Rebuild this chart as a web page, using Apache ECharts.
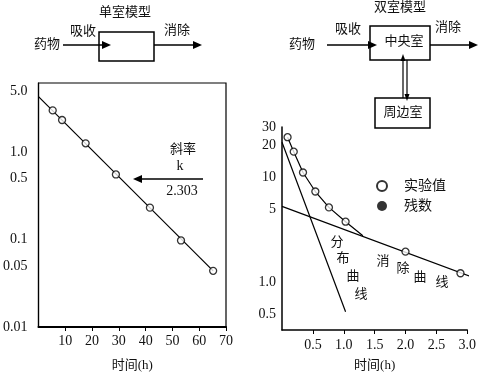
<!DOCTYPE html>
<html>
<head>
<meta charset="utf-8">
<script src="https://cdn.jsdelivr.net/npm/echarts@6/dist/echarts.min.js"></script>
<style>
  html, body { margin: 0; padding: 0; background: #fff; }
  #main { width: 479px; height: 377px; }
</style>
</head>
<body>
<div id="main"></div>
<script>
// 单室模型 数据
var oneTime = [5.3, 8.8, 17.6, 28.9, 41.6, 53.2, 65.2];
var oneConc = [3.03, 2.35, 1.27, 0.559, 0.233, 0.098, 0.044];
var oneLineTime = [0, 65.2];
var oneLineConc = [4.36, 0.044];
var oneXTicks = [10, 20, 30, 40, 50, 60, 70];
var oneYTicks = [0.01, 0.05, 0.1, 0.5, 1, 5];

// 双室模型 数据
var twoTime = [0.09, 0.19, 0.34, 0.54, 0.76, 1.03, 2.0, 2.89];
var twoConc = [24.0, 17.5, 11.1, 7.33, 5.18, 3.79, 1.97, 1.23];
var curveTime = [0.09, 0.19, 0.34, 0.54, 0.76, 1.03, 1.31];
var curveConc = [24.0, 17.5, 11.1, 7.33, 5.18, 3.79, 2.79];
var elimTime = [0, 3.03];
var elimConc = [5.3, 1.16];
var distTime = [0, 1.03];
var distConc = [21.5, 0.53];
var twoXTicks = [0.5, 1, 1.5, 2, 2.5, 3];
var twoYTicks = [0.5, 1, 5, 10, 20, 30];

var font = '"Liberation Serif", "Noto Sans CJK SC", serif';
var black = '#000';

function zip(xs, ys) {
  return xs.map(function (x, i) { return [x, ys[i]]; });
}
function fmtOne(v) {
  var n = Number(Number(v).toPrecision(2));
  return n >= 1 ? n.toFixed(1) : String(n);
}
function fmtTwo(v) {
  var n = Number(Number(v).toPrecision(2));
  if (n >= 5) return String(n);
  return n >= 1 ? n.toFixed(1) : String(n);
}

// 文字和箭头（示意图部分）
function txt(x, y, s, size) {
  return {
    type: 'text', x: x, y: y, silent: true,
    style: { text: s, fill: '#111', font: (size || 13) + 'px ' + font, textAlign: 'center', textVerticalAlign: 'middle' }
  };
}
function box(x, y, w, h) {
  return { type: 'rect', shape: { x: x, y: y, width: w, height: h }, style: { fill: 'none', stroke: black, lineWidth: 1.5 } };
}
function seg(x1, y1, x2, y2, w) {
  return { type: 'line', shape: { x1: x1, y1: y1, x2: x2, y2: y2 }, style: { stroke: black, lineWidth: w || 1.5 } };
}
function head(x, y, dir, len, half) {
  len = len || 9; half = half || 4;
  var pts;
  if (dir === 'right') pts = [[x, y], [x - len, y - half], [x - len, y + half]];
  else if (dir === 'left') pts = [[x, y], [x + len, y - half], [x + len, y + half]];
  else if (dir === 'up') pts = [[x, y], [x - half, y + len], [x + half, y + len]];
  else pts = [[x, y], [x - half, y - len], [x + half, y - len]];
  return { type: 'polygon', shape: { points: pts }, style: { fill: black } };
}

var graphics = [
  // 单室模型
  txt(125, 13, '单室模型'),
  txt(47, 45, '药物'),
  txt(83, 32, '吸收'),
  box(99, 32, 55, 29),
  seg(63, 45, 104, 45), head(111, 45, 'right'),
  txt(177, 31, '消除'),
  seg(154, 45, 195, 45), head(202, 45, 'right'),
  // 双室模型
  txt(400, 8, '双室模型'),
  txt(302, 45, '药物'),
  txt(348, 30, '吸收'),
  box(370, 26, 60, 34),
  txt(404, 42, '中央室'),
  seg(327, 45, 370, 45), head(377, 45, 'right'),
  txt(448, 28, '消除'),
  seg(430, 45, 471, 45), head(478, 45, 'right'),
  seg(403, 60, 403, 98, 1.2), head(403, 54, 'up', 7, 2.5),
  seg(407, 60, 407, 95, 1.2), head(407, 101, 'down', 7, 2.5),
  box(375, 98, 55, 30),
  txt(403, 113, '周边室'),
  // 斜率标注
  txt(183, 150, '斜率'),
  txt(180, 166, 'k', 14),
  seg(141, 179, 203, 179, 1.5), head(133, 179, 'left', 9, 4),
  txt(182, 191, '2.303', 14),
  // 曲线名称
  txt(337, 243, '分'), txt(343, 259, '布'), txt(353, 277, '曲'), txt(361, 295, '线'),
  txt(383, 262, '消'), txt(403, 269, '除'), txt(420, 278, '曲'), txt(442, 283, '线')
];

var chart = echarts.init(document.getElementById('main'));

var lineStyle = { color: black, width: 1.2 };
var openDot = { color: '#fff', borderColor: black, borderWidth: 1.3 };

var option = {
  animation: false,
  backgroundColor: '#fff',
  textStyle: { fontFamily: font },
  grid: [
    { left: 38, top: 83, width: 188, height: 246, show: true, borderColor: black, borderWidth: 1.2, backgroundColor: 'transparent' },
    { left: 282, top: 127, width: 186, height: 204 }
  ],
  xAxis: [
    {
      gridIndex: 0, type: 'value', min: 0, max: 70, interval: 10,
      axisLine: { onZero: false, lineStyle: { color: black, width: 2 } },
      axisTick: { show: true, length: 4, customValues: oneXTicks, lineStyle: { color: black } },
      axisLabel: { customValues: oneXTicks, color: '#111', fontFamily: font, fontSize: 14, margin: 7 },
      splitLine: { show: false },
      name: '时间(h)', nameLocation: 'middle', nameGap: 32,
      nameTextStyle: { color: '#111', fontFamily: font, fontSize: 13 }
    },
    {
      gridIndex: 1, type: 'value', min: 0, max: 3, interval: 0.5,
      axisLine: { onZero: false, lineStyle: { color: black, width: 1.5 } },
      axisTick: { show: true, length: 4, customValues: twoXTicks, lineStyle: { color: black } },
      axisLabel: {
        customValues: twoXTicks, color: '#111', fontFamily: font, fontSize: 14, margin: 8,
        formatter: function (v) { return Number(v).toFixed(1); }
      },
      splitLine: { show: false },
      name: '时间(h)', nameLocation: 'middle', nameGap: 29,
      nameTextStyle: { color: '#111', fontFamily: font, fontSize: 13 }
    }
  ],
  yAxis: [
    {
      gridIndex: 0, type: 'log', min: 0.01, max: 6.24,
      axisLine: { show: true, onZero: false, lineStyle: { color: black, width: 1.2 } },
      axisTick: { show: false },
      axisLabel: { customValues: oneYTicks, formatter: fmtOne, color: '#111', fontFamily: font, fontSize: 14, margin: 11 },
      splitLine: { show: false }
    },
    {
      gridIndex: 1, type: 'log', min: 0.356, max: 30,
      axisLine: { show: true, onZero: false, lineStyle: { color: black, width: 1.5 } },
      axisTick: { show: false },
      axisLabel: { customValues: twoYTicks, formatter: fmtTwo, color: '#111', fontFamily: font, fontSize: 14, margin: 6 },
      splitLine: { show: false }
    }
  ],
  legend: {
    orient: 'vertical', left: 371, top: 174, itemGap: 6,
    itemWidth: 10, itemHeight: 10,
    textStyle: { color: '#111', fontFamily: font, fontSize: 14, padding: [0, 0, 0, 12] },
    data: [{ name: '实验值', icon: 'circle' }, { name: '残数', icon: 'circle' }]
  },
  series: [
    {
      name: '单室拟合', type: 'line', xAxisIndex: 0, yAxisIndex: 0,
      data: zip(oneLineTime, oneLineConc), symbol: 'none', lineStyle: lineStyle, z: 2
    },
    {
      name: '单室实验值', type: 'scatter', xAxisIndex: 0, yAxisIndex: 0,
      data: zip(oneTime, oneConc), symbol: 'circle', symbolSize: 7,
      itemStyle: openDot, z: 3
    },
    {
      name: '实验曲线', type: 'line', xAxisIndex: 1, yAxisIndex: 1,
      data: zip(curveTime, curveConc), symbol: 'none', lineStyle: lineStyle, z: 2
    },
    {
      name: '消除曲线', type: 'line', xAxisIndex: 1, yAxisIndex: 1,
      data: zip(elimTime, elimConc), symbol: 'none', lineStyle: lineStyle, z: 2
    },
    {
      name: '分布曲线', type: 'line', xAxisIndex: 1, yAxisIndex: 1,
      data: zip(distTime, distConc), symbol: 'none', lineStyle: lineStyle, z: 2
    },
    {
      name: '实验值', type: 'scatter', xAxisIndex: 1, yAxisIndex: 1,
      data: zip(twoTime, twoConc), symbol: 'circle', symbolSize: 7,
      itemStyle: openDot, z: 3
    },
    {
      name: '残数', type: 'scatter', xAxisIndex: 1, yAxisIndex: 1,
      data: [], symbol: 'circle', symbolSize: 8, itemStyle: { color: black }
    }
  ],
  graphic: graphics
};

chart.setOption(option);
</script>
</body>
</html>
